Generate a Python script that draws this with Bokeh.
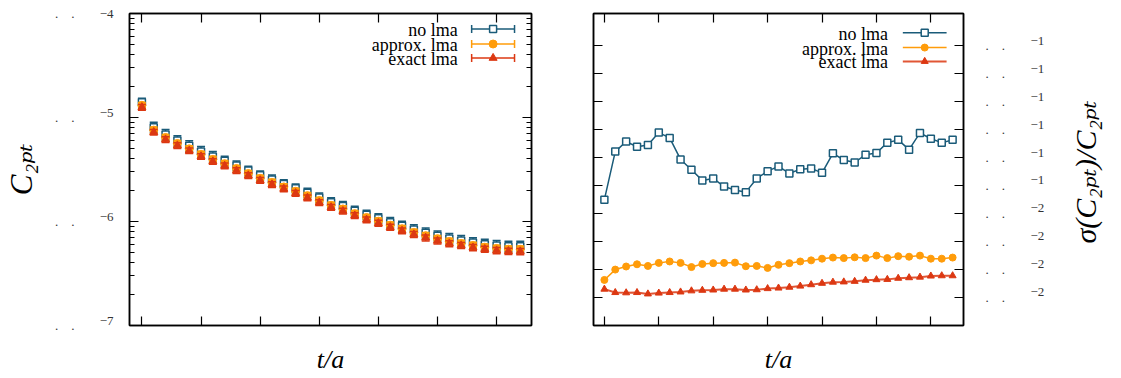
import math
import json
from bokeh.plotting import figure
from bokeh.layouts import row
from bokeh.models import (Range1d, FixedTicker, LinearAxis, LogAxis, Label,
                          ColumnDataSource, CustomJSTickFormatter)
from bokeh.embed import file_html
from bokeh.resources import INLINE

# ---------------- data ----------------
t_values = list(range(33))

c2pt_nolma = [1.40e-5, 8.08e-6, 6.86e-6, 6.01e-6, 5.35e-6, 4.71e-6, 4.22e-6, 3.83e-6,
              3.45e-6, 3.09e-6, 2.78e-6, 2.54e-6, 2.30e-6, 2.09e-6, 1.89e-6, 1.70e-6,
              1.53e-6, 1.41e-6, 1.27e-6, 1.16e-6, 1.076e-6, 9.84e-7, 9.09e-7, 8.38e-7,
              7.79e-7, 7.29e-7, 6.86e-7, 6.57e-7, 6.28e-7, 6.05e-7, 5.88e-7, 5.79e-7, 5.77e-7]
c2pt_approx = [1.31e-5, 7.56e-6, 6.42e-6, 5.62e-6, 5.00e-6, 4.41e-6, 3.95e-6, 3.59e-6,
               3.23e-6, 2.89e-6, 2.60e-6, 2.37e-6, 2.15e-6, 1.95e-6, 1.77e-6, 1.59e-6,
               1.43e-6, 1.32e-6, 1.19e-6, 1.09e-6, 1.006e-6, 9.21e-7, 8.50e-7, 7.84e-7,
               7.29e-7, 6.82e-7, 6.42e-7, 6.14e-7, 5.87e-7, 5.66e-7, 5.50e-7, 5.41e-7, 5.40e-7]
c2pt_exact = [1.256e-5, 7.23e-6, 6.14e-6, 5.38e-6, 4.79e-6, 4.22e-6, 3.78e-6, 3.43e-6,
              3.09e-6, 2.77e-6, 2.49e-6, 2.27e-6, 2.06e-6, 1.87e-6, 1.69e-6, 1.52e-6,
              1.37e-6, 1.26e-6, 1.14e-6, 1.04e-6, 9.63e-7, 8.81e-7, 8.14e-7, 7.50e-7,
              6.97e-7, 6.52e-7, 6.14e-7, 5.88e-7, 5.62e-7, 5.42e-7, 5.26e-7, 5.18e-7, 5.15e-7]

rel_nolma = [0.0949, 0.1121, 0.1157, 0.1138, 0.1145, 0.1189, 0.1170, 0.1093, 0.1056,
             0.1018, 0.1025, 0.0996, 0.0984, 0.0976, 0.1025, 0.1051, 0.1068, 0.1043,
             0.1058, 0.1061, 0.1045, 0.1115, 0.1091, 0.1082, 0.1110, 0.1116, 0.1153,
             0.1163, 0.1128, 0.1188, 0.1167, 0.1153, 0.1163]
rel_approx = [0.0662, 0.0699, 0.0710, 0.0718, 0.0712, 0.0723, 0.0728, 0.0723, 0.0708,
              0.0719, 0.0722, 0.0723, 0.0724, 0.0711, 0.0712, 0.0705, 0.0716, 0.0722,
              0.0728, 0.0732, 0.0738, 0.0742, 0.0740, 0.0743, 0.0740, 0.0749, 0.0740,
              0.0747, 0.0745, 0.0749, 0.0738, 0.0738, 0.0742]
rel_exact = [0.0629, 0.0617, 0.0616, 0.0617, 0.0612, 0.0615, 0.0617, 0.0619, 0.0623,
             0.0625, 0.0626, 0.0629, 0.0629, 0.0626, 0.0627, 0.0631, 0.0633, 0.0636,
             0.0640, 0.0645, 0.0650, 0.0654, 0.0655, 0.0657, 0.0661, 0.0663, 0.0664,
             0.0668, 0.0670, 0.0672, 0.0676, 0.0677, 0.0677]

series_names = ["no lma", "approx. lma", "exact lma"]
x_ticks = [0, 5, 10, 15, 20, 25, 30]
left_y_ticks = [1e-7, 1e-6, 1e-5, 1e-4]
left_y_labels = ["\u22127", "\u22126", "\u22125", "\u22124"]
left_y_minor = [k * 10.0 ** e for e in (-7, -6, -5) for k in range(2, 10)]
right_y_ticks = [0.06, 0.07, 0.08, 0.09, 0.10, 0.11, 0.12, 0.13, 0.14, 0.15]
right_y_labels = ["\u22122"] * 4 + ["\u22121"] * 6
dot_label = ".\u2003."
left_title = "C\u2082\u209a\u209c"
right_title = "\u03c3(C\u2082\u209a\u209c)/C\u2082\u209a\u209c"
x_title = "t/a"

# ---------------- styles / layout ----------------
TEAL = "#1a5b79"
ORANGE = "#ff9c0a"
RED = "#dc3812"
COLORS = [TEAL, ORANGE, RED]
SERIF = "Liberation Serif, DejaVu Serif, serif"
LABEL_GREY = "#333333"

H = 378
W1, W2 = 560, 561
F1 = dict(left=128, right=531, top=13, bottom=325)            # canvas px
F2 = dict(left=593, right=965, top=9, bottom=325)             # canvas px
X1 = (-1.05, 32.95)
Y1 = (1e-7, 1e-4)
X2 = (-1.0, 33.0)
Y2 = (0.0499, 0.1615)
LABEL_RAISE = 5  # px the exponent labels sit above their tick


def make_maps(F, X, Y, log):
    def fx(px):
        return X[0] + (px - F["left"]) / (F["right"] - F["left"]) * (X[1] - X[0])

    def fy(py):
        frac = (F["bottom"] - py) / (F["bottom"] - F["top"])
        if log:
            a, b = math.log10(Y[0]), math.log10(Y[1])
            return 10 ** (a + frac * (b - a))
        return Y[0] + frac * (Y[1] - Y[0])

    def py_of(v):
        if log:
            a, b = math.log10(Y[0]), math.log10(Y[1])
            frac = (math.log10(v) - a) / (b - a)
        else:
            frac = (v - Y[0]) / (Y[1] - Y[0])
        return F["bottom"] - frac * (F["bottom"] - F["top"])

    return fx, fy, py_of


fx1, fy1, py1 = make_maps(F1, X1, Y1, True)
fx2, fy2, py2 = make_maps(F2, X2, Y2, False)


def tick_axis(ax, ticks, minor, tick_len=9, minor_len=5):
    ax.ticker = FixedTicker(ticks=ticks, minor_ticks=minor)
    ax.formatter = CustomJSTickFormatter(code="return '';")
    ax.major_label_text_font_size = "0px"
    ax.major_label_standoff = 0
    ax.major_tick_in = tick_len
    ax.major_tick_out = 0
    ax.minor_tick_in = minor_len
    ax.minor_tick_out = 0
    ax.axis_line_color = "black"
    ax.axis_line_width = 1.5
    ax.major_tick_line_color = "black"
    ax.major_tick_line_width = 1.2
    ax.minor_tick_line_color = "black"
    ax.minor_tick_line_width = 1.2


def text_axis(ax, ticks, labels, standoff, size, color=LABEL_GREY, italic=False,
              orientation=None):
    ax.ticker = FixedTicker(ticks=ticks, minor_ticks=[])
    code = ("const T = %s; const L = %s; let b = 0;"
            "for (let i = 0; i < T.length; i++) {"
            " if (Math.abs(T[i] - tick) < Math.abs(T[b] - tick)) b = i; }"
            "return L[b];") % (json.dumps(ticks), json.dumps(labels))
    ax.formatter = CustomJSTickFormatter(code=code)
    ax.major_tick_in = 0
    ax.major_tick_out = 0
    ax.minor_tick_in = 0
    ax.minor_tick_out = 0
    ax.axis_line_color = None
    ax.major_tick_line_color = None
    ax.minor_tick_line_color = None
    ax.major_label_standoff = standoff
    ax.major_label_text_font = SERIF
    ax.major_label_text_font_size = f"{size}px"
    ax.major_label_text_color = color
    if italic:
        ax.major_label_text_font_style = "italic"
    if orientation is not None:
        ax.major_label_orientation = orientation


def base_figure(W, F, X, Y, log, x0):
    kw = dict(y_axis_type="log") if log else {}
    p = figure(width=W, height=H, x_range=Range1d(*X), y_range=Range1d(*Y),
               output_backend="svg", toolbar_location=None,
               min_border_left=F["left"] - x0, min_border_right=x0 + W - F["right"],
               min_border_top=F["top"], min_border_bottom=H - F["bottom"], **kw)
    p.xgrid.visible = False
    p.ygrid.visible = False
    p.outline_line_color = "black"
    p.outline_line_width = 1.5
    p.background_fill_color = "white"
    p.border_fill_color = "white"
    return p


def style_x_title(ax):
    ax.axis_label = x_title
    ax.axis_label_text_font = SERIF
    ax.axis_label_text_font_style = "italic"
    ax.axis_label_text_font_size = "26px"
    ax.axis_label_text_color = "black"
    ax.axis_label_standoff = 19


def label(p, x, y, text, size, align="left", baseline="alphabetic", color="black"):
    p.add_layout(Label(x=x, y=y, text=text, text_font=SERIF, text_font_size=f"{size}px",
                       text_align=align, text_baseline=baseline, text_color=color))


markers = ["square", "circle", "triangle"]
msizes = [7, 8, 8]
leg_rows = [28.5, 43.5, 57.5]
LEG_FONT = 18

# ================= left panel: C2pt =================
p1 = base_figure(W1, F1, X1, Y1, True, 0)
tick_axis(p1.xaxis[0], x_ticks, [])
style_x_title(p1.xaxis[0])
tick_axis(p1.yaxis[0], left_y_ticks, left_y_minor)
ax_top = LinearAxis()
tick_axis(ax_top, x_ticks, [])
p1.add_layout(ax_top, "above")
ax_right = LogAxis()
tick_axis(ax_right, left_y_ticks, left_y_minor)
p1.add_layout(ax_right, "right")

left_label_pos = [min(fy1(py1(v) - LABEL_RAISE), Y1[1]) for v in left_y_ticks]
ax_exp1 = LogAxis()
text_axis(ax_exp1, left_label_pos, left_y_labels, 16, 13)
p1.add_layout(ax_exp1, "left")
ax_dot1 = LogAxis()
text_axis(ax_dot1, left_y_ticks, [dot_label] * 4, 22, 13)
ax_dot1.axis_label = left_title
ax_dot1.axis_label_text_font = SERIF
ax_dot1.axis_label_text_font_style = "italic"
ax_dot1.axis_label_text_font_size = "31px"
ax_dot1.axis_label_text_color = "black"
ax_dot1.axis_label_standoff = 13
p1.add_layout(ax_dot1, "left")

for vals, rel, col, mk, ms in zip([c2pt_nolma, c2pt_approx, c2pt_exact],
                                  [rel_nolma, rel_approx, rel_exact],
                                  COLORS, markers, msizes):
    lo = [v * (1 - r) for v, r in zip(vals, rel)]
    hi = [v * (1 + r) for v, r in zip(vals, rel)]
    src = ColumnDataSource(dict(t=t_values, v=vals, lo=lo, hi=hi))
    p1.segment("t", "lo", "t", "hi", source=src, line_color=col, line_width=1.5)
    p1.scatter("t", "lo", source=src, marker="dash", size=8, line_color=col, line_width=1.5)
    p1.scatter("t", "hi", source=src, marker="dash", size=8, line_color=col, line_width=1.5)
    if mk == "square":
        p1.scatter("t", "v", source=src, marker=mk, size=ms, line_color=col,
                   fill_color="white", line_width=1.5)
    else:
        p1.scatter("t", "v", source=src, marker=mk, size=ms, line_color=col,
                   fill_color=col, line_width=1)

# legend (left panel)
for name, col, mk, ms, ry in zip(series_names, COLORS, markers, msizes, leg_rows):
    label(p1, fx1(457), fy1(ry + 1), name, LEG_FONT, align="right", baseline="middle")
    p1.segment(x0=[fx1(471)], y0=[fy1(ry)], x1=[fx1(514)], y1=[fy1(ry)],
               line_color=col, line_width=1.5)
    p1.segment(x0=[fx1(471), fx1(514)], y0=[fy1(ry - 4)] * 2,
               x1=[fx1(471), fx1(514)], y1=[fy1(ry + 4)] * 2,
               line_color=col, line_width=1.5)
    if mk == "square":
        p1.scatter(x=[fx1(492.5)], y=[fy1(ry)], marker=mk, size=ms, line_color=col,
                   fill_color="white", line_width=1.5)
    else:
        p1.scatter(x=[fx1(492.5)], y=[fy1(ry)], marker=mk, size=ms, line_color=col,
                   fill_color=col)

# ================= right panel: sigma(C2pt)/C2pt =================
p2 = base_figure(W2, F2, X2, Y2, False, W1)
tick_axis(p2.xaxis[0], x_ticks, [])
style_x_title(p2.xaxis[0])
tick_axis(p2.yaxis[0], right_y_ticks, [])
ax2_top = LinearAxis()
tick_axis(ax2_top, x_ticks, [])
p2.add_layout(ax2_top, "above")
ax2_right = LinearAxis()
tick_axis(ax2_right, right_y_ticks, [])
p2.add_layout(ax2_right, "right")

ax2_dot = LinearAxis()
text_axis(ax2_dot, right_y_ticks, [dot_label] * len(right_y_ticks), 22, 13)
p2.add_layout(ax2_dot, "right")
right_label_pos = [fy2(py2(v) - LABEL_RAISE) for v in right_y_ticks]
ax2_exp = LinearAxis()
text_axis(ax2_exp, right_label_pos, right_y_labels, 22, 13)
p2.add_layout(ax2_exp, "right")
ax2_title = LinearAxis()
text_axis(ax2_title, [fy2(242)], [right_title], 38, 30, color="black", italic=True,
          orientation=math.pi / 2)
p2.add_layout(ax2_title, "right")

line_widths = [1.5, 1.5, 2.0]
line_alphas = [1.0, 1.0, 0.85]
for rel, col, mk, ms, lw, la in zip([rel_nolma, rel_approx, rel_exact], COLORS, markers,
                                    msizes, line_widths, line_alphas):
    src = ColumnDataSource(dict(t=t_values, r=rel))
    p2.line("t", "r", source=src, line_color=col, line_width=lw, line_alpha=la)
    if mk == "square":
        p2.scatter("t", "r", source=src, marker=mk, size=ms, line_color=col,
                   fill_color="white", line_width=1.5)
    else:
        p2.scatter("t", "r", source=src, marker=mk, size=ms - 1, line_color=col,
                   fill_color=col)

# legend (right panel)
for name, col, mk, ms, ry, lw, la in zip(series_names, COLORS, markers, msizes, leg_rows,
                                         line_widths, line_alphas):
    label(p2, fx2(889), fy2(ry + 1), name, LEG_FONT, align="right", baseline="middle")
    p2.segment(x0=[fx2(904)], y0=[fy2(ry)], x1=[fx2(948)], y1=[fy2(ry)],
               line_color=col, line_width=lw, line_alpha=la)
    if mk == "square":
        p2.scatter(x=[fx2(926)], y=[fy2(ry)], marker=mk, size=ms, line_color=col,
                   fill_color="white", line_width=1.5)
    else:
        p2.scatter(x=[fx2(926)], y=[fy2(ry)], marker=mk, size=ms - 1, line_color=col,
                   fill_color=col)

layout = row(p1, p2)
open("out.html", "w").write(file_html(layout, INLINE))
